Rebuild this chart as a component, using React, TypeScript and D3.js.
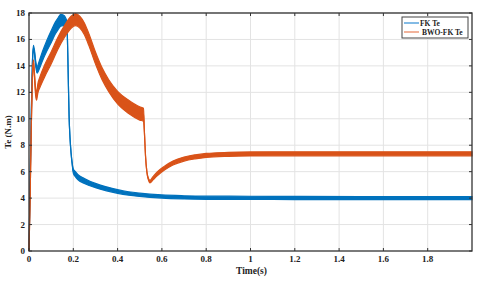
import { useEffect, useRef } from "react";
import * as d3 from "d3";

// FK Te (blue): time, mean torque, ripple band width
const fkTime = [0, 0.005, 0.01, 0.015, 0.02, 0.025, 0.03, 0.037, 0.045, 0.06, 0.08, 0.1, 0.12, 0.13, 0.143, 0.155, 0.165, 0.171, 0.175, 0.178, 0.181, 0.185, 0.19, 0.195, 0.2, 0.21, 0.22, 0.25, 0.3, 0.35, 0.4, 0.45, 0.5, 0.6, 0.7, 0.8, 1.0, 1.2, 1.5, 2.0];
const fkTe = [0, 5, 10, 14, 15.4, 15.0, 14.2, 13.7, 14.0, 14.7, 15.5, 16.2, 16.9, 17.15, 17.45, 17.45, 17.35, 17.2, 15.0, 12.5, 10.2, 8.6, 7.4, 6.6, 6.05, 5.8, 5.6, 5.3, 4.95, 4.7, 4.5, 4.35, 4.25, 4.12, 4.06, 4.03, 4.02, 4.01, 4.0, 4.0];
const fkRipple = [0, 0, 0.1, 0.2, 0.3, 0.3, 0.4, 0.5, 0.6, 0.7, 0.8, 0.9, 0.9, 0.9, 0.9, 0.8, 0.6, 0.3, 0, 0, 0, 0, 0, 0.1, 0.3, 0.4, 0.4, 0.38, 0.32, 0.3, 0.28, 0.26, 0.25, 0.24, 0.24, 0.24, 0.24, 0.24, 0.24, 0.24];

// BWO-FK Te (orange)
const bwoTime = [0, 0.005, 0.01, 0.015, 0.02, 0.025, 0.03, 0.034, 0.04, 0.05, 0.07, 0.1, 0.13, 0.16, 0.19, 0.21, 0.23, 0.25, 0.27, 0.3, 0.33, 0.36, 0.4, 0.45, 0.5, 0.517, 0.521, 0.526, 0.532, 0.54, 0.546, 0.56, 0.58, 0.61, 0.65, 0.7, 0.75, 0.8, 0.9, 1.0, 1.2, 1.5, 2.0];
const bwoTe = [0, 4, 9, 13, 14.3, 13.2, 12.0, 11.7, 12.3, 12.8, 13.6, 14.6, 15.7, 16.6, 17.3, 17.5, 17.3, 16.8, 16.0, 14.6, 13.4, 12.5, 11.6, 10.9, 10.4, 10.3, 9.0, 7.2, 6.0, 5.4, 5.25, 5.5, 5.85, 6.25, 6.65, 6.95, 7.12, 7.23, 7.31, 7.34, 7.35, 7.35, 7.35];
const bwoRipple = [0, 0, 0.1, 0.2, 0.3, 0.4, 0.5, 0.6, 0.7, 0.8, 0.9, 0.9, 0.9, 0.9, 0.9, 0.9, 0.9, 0.9, 0.9, 0.9, 0.9, 0.9, 0.95, 1.0, 1.0, 1.0, 0, 0, 0, 0.15, 0.2, 0.25, 0.3, 0.3, 0.3, 0.3, 0.3, 0.3, 0.3, 0.3, 0.3, 0.3, 0.3];

const xTicks = [0, 0.2, 0.4, 0.6, 0.8, 1, 1.2, 1.4, 1.6, 1.8];
const yTicks = [0, 2, 4, 6, 8, 10, 12, 14, 16, 18];

const width = 480;
const height = 281;
const margin = { top: 13, right: 8, bottom: 30, left: 29 };
const font = "Liberation Serif, serif";

export default function App() {
  const ref = useRef<SVGSVGElement>(null);

  useEffect(() => {
    const svg = d3.select(ref.current);
    svg.selectAll("*").remove();

    const x = d3.scaleLinear().domain([0, 2]).range([margin.left, width - margin.right]);
    const y = d3.scaleLinear().domain([0, 18]).range([height - margin.bottom, margin.top]);

    // grid
    svg
      .append("g")
      .selectAll("line")
      .data(xTicks.slice(1))
      .join("line")
      .attr("x1", (d) => x(d))
      .attr("x2", (d) => x(d))
      .attr("y1", y(0))
      .attr("y2", y(18))
      .attr("stroke", "#e3e3e3")
      .attr("stroke-width", 1);
    svg
      .append("g")
      .selectAll("line")
      .data(yTicks.slice(1))
      .join("line")
      .attr("x1", x(0))
      .attr("x2", x(2))
      .attr("y1", (d) => y(d))
      .attr("y2", (d) => y(d))
      .attr("stroke", "#e3e3e3")
      .attr("stroke-width", 1);

    const drawSeries = (t: number[], v: number[], w: number[], color: string) => {
      const pts = t.map((d, i) => ({ t: d, v: v[i], w: w[i] }));
      const area = d3
        .area<{ t: number; v: number; w: number }>()
        .x((d) => x(d.t))
        .y0((d) => y(d.v - d.w / 2))
        .y1((d) => y(d.v + d.w / 2))
        .curve(d3.curveMonotoneX);
      const line = d3
        .line<{ t: number; v: number; w: number }>()
        .x((d) => x(d.t))
        .y((d) => y(d.v))
        .curve(d3.curveMonotoneX);
      svg.append("path").datum(pts).attr("d", area).attr("fill", color).attr("stroke", color).attr("stroke-width", 1.2);
      svg.append("path").datum(pts).attr("d", line).attr("fill", "none").attr("stroke", color).attr("stroke-width", 1.2);
    };

    drawSeries(fkTime, fkTe, fkRipple, "#0072BD");
    drawSeries(bwoTime, bwoTe, bwoRipple, "#D95319");

    // axes box
    const axisColor = "#333";
    svg
      .append("rect")
      .attr("x", x(0))
      .attr("y", y(18))
      .attr("width", x(2) - x(0))
      .attr("height", y(0) - y(18))
      .attr("fill", "none")
      .attr("stroke", axisColor)
      .attr("stroke-width", 1.3);

    const tickLen = 3;
    const tx = svg.append("g");
    xTicks.forEach((d) => {
      tx.append("line").attr("x1", x(d)).attr("x2", x(d)).attr("y1", y(0)).attr("y2", y(0) - tickLen).attr("stroke", axisColor);
      tx.append("line").attr("x1", x(d)).attr("x2", x(d)).attr("y1", y(18)).attr("y2", y(18) + tickLen).attr("stroke", axisColor);
      tx.append("text")
        .attr("x", x(d))
        .attr("y", y(0) + 11)
        .attr("text-anchor", "middle")
        .attr("font-family", font)
        .attr("font-weight", "bold")
        .attr("font-size", 9)
        .attr("fill", "#222")
        .text(String(d));
    });
    yTicks.forEach((d) => {
      tx.append("line").attr("x1", x(0)).attr("x2", x(0) + tickLen).attr("y1", y(d)).attr("y2", y(d)).attr("stroke", axisColor);
      tx.append("line").attr("x1", x(2)).attr("x2", x(2) - tickLen).attr("y1", y(d)).attr("y2", y(d)).attr("stroke", axisColor);
      tx.append("text")
        .attr("x", x(0) - 4)
        .attr("y", y(d) + 3)
        .attr("text-anchor", "end")
        .attr("font-family", font)
        .attr("font-weight", "bold")
        .attr("font-size", 9)
        .attr("fill", "#222")
        .text(String(d));
    });

    svg
      .append("text")
      .attr("x", (x(0) + x(2)) / 2 + 1)
      .attr("y", 274)
      .attr("text-anchor", "middle")
      .attr("font-family", font)
      .attr("font-weight", "bold")
      .attr("font-size", 9.5)
      .attr("fill", "#222")
      .text("Time(s)");

    svg
      .append("text")
      .attr("transform", `translate(11, ${(y(0) + y(18)) / 2}) rotate(-90)`)
      .attr("text-anchor", "middle")
      .attr("font-family", font)
      .attr("font-weight", "bold")
      .attr("font-size", 9)
      .attr("fill", "#222")
      .text("Te (N.m)");

    // legend
    const lg = svg.append("g").attr("transform", "translate(402,17)");
    lg.append("rect").attr("width", 66).attr("height", 21).attr("fill", "#fff").attr("stroke", "#444").attr("stroke-width", 1);
    const items = [
      { label: "FK Te", color: "#5aa5dc", y: 6 },
      { label: "BWO-FK Te", color: "#ee9a7a", y: 15 },
    ];
    items.forEach((it, i) => {
      lg.append("line").attr("x1", 2).attr("x2", 17).attr("y1", it.y).attr("y2", it.y).attr("stroke", it.color).attr("stroke-width", 1.5);
      lg.append("text")
        .attr("x", i === 0 ? 18 : 20)
        .attr("y", it.y + 2.5)
        .attr("font-family", font)
        .attr("font-weight", "bold")
        .attr("font-size", 7.5)
        .attr("fill", "#222")
        .text(it.label);
    });
  }, []);

  return (
    <svg
      ref={ref}
      width={width}
      height={height}
      style={{ position: "absolute", left: 0, top: 0, background: "#fff" }}
    />
  );
}
